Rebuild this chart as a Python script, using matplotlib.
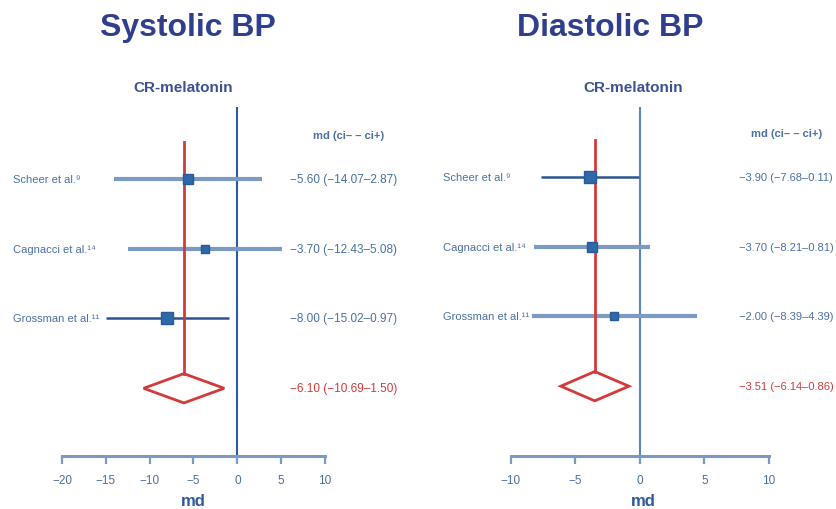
import matplotlib
matplotlib.use("Agg")
import matplotlib.pyplot as plt
from matplotlib.patches import Polygon

plt.rcParams['font.family'] = ["Liberation Sans", "DejaVu Sans"]

# ---- data ----
studies = ["Scheer et al.\u2079", "Cagnacci et al.\u00b9\u2074", "Grossman et al.\u00b9\u00b9"]

sys_md = [-5.60, -3.70, -8.00]
sys_lo = [-14.07, -12.43, -15.02]
sys_hi = [2.87, 5.08, -0.97]
sys_pooled = [-6.10, -10.69, -1.50]

dia_md = [-3.90, -3.70, -2.00]
dia_lo = [-7.68, -8.21, -8.39]
dia_hi = [-0.11, 0.81, 4.39]
dia_pooled = [-3.51, -6.14, -0.86]

sys_ticks = [-20, -15, -10, -5, 0, 5, 10]
dia_ticks = [-10, -5, 0, 5, 10]

# ---- style ----
LIGHT = "#7b9bc3"
DARK = "#2e5590"
BOX = "#2f6aa8"
RED = "#d33a3a"
TXT = "#4a70a6"
TITLE = "#2f3f8e"

W, H = 837, 510
fig = plt.figure(figsize=(W / 100, H / 100), dpi=100)


def fmt(v):
    return ("%.2f" % v).replace("-", "\u2212")


def panel(px_left, px_right, px_top, px_bottom, xlim, ylim, ticks, md, lo, hi, pooled,
          line_cols, line_w, box_sz, zero_col, lab_x, txt_x, head_x, txt_fs,
          title, title_x, sub_x, md_x):
    ax = fig.add_axes([px_left / W, 1 - px_bottom / H, (px_right - px_left) / W,
                       (px_bottom - px_top) / H])
    ax.set_xlim(xlim)
    ax.set_ylim(ylim)
    ax.patch.set_alpha(0)
    for s in ["top", "left", "right"]:
        ax.spines[s].set_visible(False)
    ax.spines["bottom"].set_color(LIGHT)
    ax.spines["bottom"].set_linewidth(2.2)
    ax.set_yticks([])
    ax.set_xticks(ticks)
    ax.set_xticklabels([str(t).replace("-", "\u2212") for t in ticks])
    ax.tick_params(axis="x", colors=LIGHT, length=6, width=1.6, labelsize=8.5,
                   labelcolor=TXT, pad=7)

    ax.axvline(0, color=zero_col, lw=1.5, zorder=1)

    rows = [1, 2, 3]
    for i, r in enumerate(rows):
        ax.plot([lo[i], hi[i]], [r, r], color=line_cols[i], lw=line_w[i], zorder=2,
                solid_capstyle="butt")
        ax.plot(md[i], r, marker="s", ms=box_sz[i], color=BOX, mec="#2a5a9a", zorder=4)
        ax.text(lab_x, r, studies[i], transform=ax.get_yaxis_transform(), ha="left",
                va="center", fontsize=8, color=TXT)
        ax.text(txt_x, r, "%s (%s\u2013%s)" % (fmt(md[i]), fmt(lo[i]), fmt(abs(hi[i]))),
                transform=ax.get_yaxis_transform(), ha="left", va="center",
                fontsize=txt_fs, color=TXT)

    # pooled estimate: vertical line + diamond
    dh = 0.21
    ax.plot([pooled[0], pooled[0]], [0.47, 4 - dh], color=RED, lw=2, zorder=3)
    ax.add_patch(Polygon([[pooled[1], 4], [pooled[0], 4 - dh], [pooled[2], 4],
                          [pooled[0], 4 + dh]], closed=True, fill=False,
                         edgecolor=RED, lw=2, zorder=3))
    ax.text(txt_x, 4, "%s (%s\u2013%s)" % (fmt(pooled[0]), fmt(pooled[1]), fmt(abs(pooled[2]))),
            transform=ax.get_yaxis_transform(), ha="left", va="center",
            fontsize=txt_fs, color=RED)
    ax.text(head_x, 0.37, "md (ci\u2013 \u2013 ci+)", transform=ax.get_yaxis_transform(),
            ha="center", va="center", fontsize=8, fontweight="bold", color=TXT)

    fig.text(title_x / W, 1 - 28 / H, title, ha="center", va="center", fontsize=23,
             fontweight="bold", color=TITLE)
    fig.text(sub_x / W, 1 - 88 / H, "CR-melatonin", ha="center", va="center",
             fontsize=11, fontweight="bold", color="#3c5290")
    fig.text(md_x / W, 1 - 502 / H, "md", ha="center", va="center", fontsize=12,
             fontweight="bold", color="#2d5a96")
    return ax


panel(62, 325, 108, 457, (-20, 10), (4.97, -0.03), sys_ticks,
      sys_md, sys_lo, sys_hi, sys_pooled,
      [LIGHT, LIGHT, DARK], [3, 3, 1.8], [7.5, 6, 8], "#2b5ba3",
      (13 - 62) / 263, (290 - 62) / 263, (349 - 62) / 263, 8.5,
      "Systolic BP", 188, 183, 193)

panel(511, 769, 108, 457, (-10, 10), (5.0, 0.0), dia_ticks,
      dia_md, dia_lo, dia_hi, dia_pooled,
      [DARK, LIGHT, LIGHT], [1.8, 3, 3], [8.5, 7, 6], "#5a87c2",
      (443 - 511) / 258, (739 - 511) / 258, (787 - 511) / 258, 8,
      "Diastolic BP", 610, 633, 643)

fig.savefig("out.png", dpi=100)
